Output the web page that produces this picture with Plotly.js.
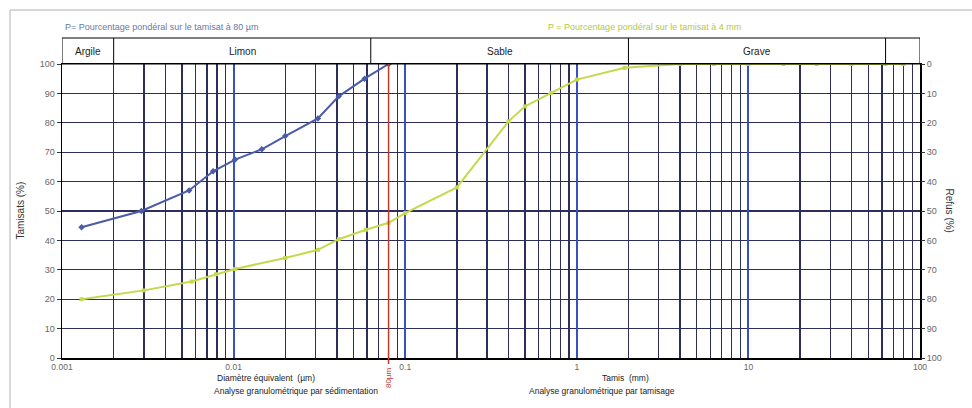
<!DOCTYPE html>
<html>
<head>
<meta charset="utf-8">
<script src="https://cdn.plot.ly/plotly-3.0.1.min.js"></script>
<style>html,body{margin:0;padding:0;background:#fff;}#chart{width:972px;height:408px;}</style>
</head>
<body>
<div id="chart"></div>
<script>
// Sedimentation (blue) – equivalent diameter in mm, passing %
const sedSize = [0.0013, 0.0029, 0.0055, 0.0076, 0.0102, 0.0146, 0.020, 0.031, 0.041, 0.058, 0.080];
const sedPass = [44.5, 50, 57, 63.5, 67.5, 71, 75.5, 81.5, 89, 95, 100];
// Sieving (yellow-green) – sieve size in mm, passing %
const sieveSize = [0.0013, 0.0030, 0.0057, 0.0079, 0.0102, 0.020, 0.031, 0.041, 0.059, 0.080, 0.100, 0.200, 0.400, 0.500, 0.710, 1.00, 1.90, 4.0, 6.3, 10, 16, 25, 40, 63, 80];
const sievePass = [20, 23, 26, 28.5, 30.3, 34, 36.8, 40.4, 43.6, 46, 49.3, 58, 80.5, 85.6, 90.2, 94.7, 98.7, 100, 100, 100, 100, 100, 100, 100, 100];
// Soil classes (mm boundaries)
const classNames = ["Argile", "Limon", "Sable", "Grave", ""];
const classBounds = [0.001, 0.002, 0.063, 2, 63, 100];
// Axis ticks
const decadeVals = [0.001, 0.01, 0.1, 1, 10, 100];
const decadeText = ["0.001", "0.01", "0.1", "1", "10", "100"];
const yTicks = [0, 10, 20, 30, 40, 50, 60, 70, 80, 90, 100];
const cutSize = 0.08;

const gridVals = [], gridText = [];
for (let d = -3; d <= 1; d++) {
  for (let k = 1; k <= 9; k++) {
    const v = k * Math.pow(10, d);
    gridVals.push(v);
    gridText.push(k === 1 ? decadeText[d + 3] : "");
  }
}
gridVals.push(100); gridText.push("100");

const F = "Liberation Sans, Arial, sans-serif";
const blue = "#4a5ca8", green = "#c6d84c", navy = "#2e2e5c";

const traces = [
  {x: sieveSize, y: sievePass, type: "scatter", mode: "lines+markers",
   line: {color: green, width: 2}, marker: {symbol: "square", size: 4, color: green}, showlegend: false},
  {x: sedSize, y: sedPass, type: "scatter", mode: "lines+markers",
   line: {color: blue, width: 2}, marker: {symbol: "diamond", size: 5, color: blue}, showlegend: false},
  {x: [1], y: [50], yaxis: "y2", type: "scatter", mode: "markers", marker: {opacity: 0}, showlegend: false, hoverinfo: "skip"},
  {x: [1], y: [50], xaxis: "x2", type: "scatter", mode: "markers", marker: {opacity: 0}, showlegend: false, hoverinfo: "skip"}
];

const px = v => (v - 62) / 858;          // pixel x -> paper
const py = v => (358 - v) / 294;         // pixel y -> paper

const shapes = [];
const annotations = [];
// header box
shapes.push({type: "rect", xref: "x", yref: "paper", x0: classBounds[0], x1: classBounds[5], y0: 1, y1: py(38), line: {color: "#000", width: 1}});
for (let i = 1; i < classBounds.length - 1; i++) {
  shapes.push({type: "line", xref: "x", yref: "paper", x0: classBounds[i], x1: classBounds[i], y0: 1, y1: py(38), line: {color: "#000", width: 1}});
}
for (let i = 0; i < classNames.length; i++) {
  if (!classNames[i]) continue;
  annotations.push({xref: "x", yref: "paper", x: (Math.log10(classBounds[i]) + Math.log10(classBounds[i + 1])) / 2, y: py(51),
    text: classNames[i], showarrow: false, font: {family: F, size: 10, color: "#222"}, xanchor: "center", yanchor: "middle"});
}
// red 80 µm line
shapes.push({type: "line", xref: "x", yref: "paper", x0: cutSize, x1: cutSize, y0: py(364), y1: 1, line: {color: "#c0392b", width: 1.5}});
// outer frame
shapes.push({type: "rect", xref: "paper", yref: "paper", x0: px(10), x1: px(990), y0: py(420), y1: py(10), line: {color: "#b0b0b0", width: 1}, layer: "below"});

annotations.push(
  {xref: "paper", yref: "paper", x: px(12), y: 0.5, text: "Tamisats (%)", textangle: -90, showarrow: false, font: {family: F, size: 10, color: "#333"}},
  {xref: "paper", yref: "paper", x: px(957), y: 0.5, text: "Refus (%)", textangle: 90, showarrow: false, font: {family: F, size: 10, color: "#333"}},
  {xref: "paper", yref: "paper", x: px(63), y: py(20), xanchor: "left", text: "P= Pourcentage pondéral sur le tamisat à 80 µm", showarrow: false, font: {family: F, size: 9, color: "#6a78a8"}},
  {xref: "paper", yref: "paper", x: px(546), y: py(20), xanchor: "left", text: "P = Pourcentage pondéral sur le tamisat à 4 mm", showarrow: false, font: {family: F, size: 9, color: "#b5c844"}},
  {xref: "paper", yref: "paper", x: px(215), y: py(385), text: "Diamètre équivalent  (µm)", showarrow: false, font: {family: F, size: 8.5, color: "#222"}},
  {xref: "paper", yref: "paper", x: px(212), y: py(398), text: "Analyse granulométrique par sédimentation", showarrow: false, font: {family: F, size: 8.5, color: "#222"}},
  {xref: "paper", yref: "paper", x: px(625), y: py(385), text: "Tamis  (mm)", showarrow: false, font: {family: F, size: 8.5, color: "#222"}},
  {xref: "paper", yref: "paper", x: px(602), y: py(398), text: "Analyse granulométrique par tamisage", showarrow: false, font: {family: F, size: 8.5, color: "#222"}},
  {xref: "x", yref: "paper", x: Math.log10(cutSize), y: py(390), text: "80µm", textangle: -90, showarrow: false, font: {family: F, size: 8, color: "#c0392b"}}
);

const layout = {
  width: 972, height: 408,
  margin: {l: 62, r: 52, t: 64, b: 50},
  paper_bgcolor: "#fff", plot_bgcolor: "#fff",
  showlegend: false,
  xaxis: {type: "log", range: [-3, 2], tickmode: "array", tickvals: gridVals, ticktext: gridText,
    showgrid: true, gridcolor: navy, gridwidth: 1.3, zeroline: false,
    showline: true, linecolor: "#000", linewidth: 1.5, mirror: true, ticks: "",
    tickfont: {family: F, size: 8.5, color: "#666"}},
  xaxis2: {type: "log", range: [-3, 2], overlaying: "x", tickmode: "array", tickvals: decadeVals,
    showgrid: true, gridcolor: "#3a50c0", gridwidth: 2, showticklabels: false, zeroline: false, showline: false, ticks: ""},
  yaxis: {range: [0, 100], tickmode: "array", tickvals: yTicks, showgrid: true, gridcolor: navy, gridwidth: 1.3,
    zeroline: false, showline: true, linecolor: "#000", linewidth: 1.5, mirror: true,
    ticks: "outside", ticklen: 4, tickcolor: "#333", tickfont: {family: F, size: 9, color: "#666"}},
  yaxis2: {range: [100, 0], overlaying: "y", side: "right", tickmode: "array", tickvals: yTicks,
    showgrid: false, zeroline: false, showline: false, ticks: "outside", ticklen: 4, tickcolor: "#333",
    tickfont: {family: F, size: 9, color: "#666"}},
  shapes: shapes,
  annotations: annotations
};

Plotly.newPlot("chart", traces, layout, {staticPlot: true, displayModeBar: false});
</script>
</body>
</html>
